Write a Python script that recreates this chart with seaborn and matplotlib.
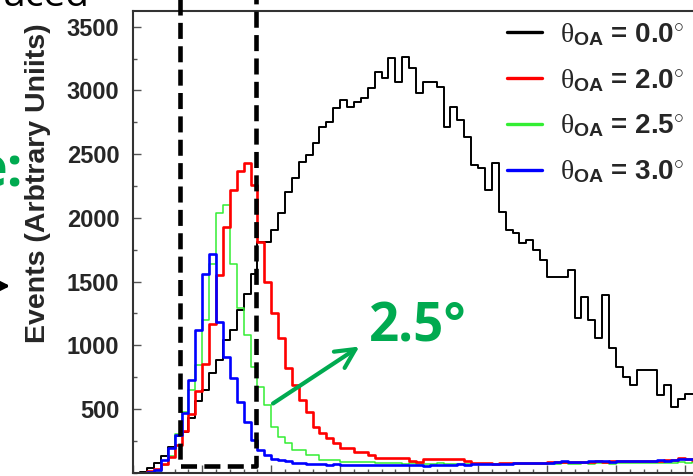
import numpy as np
import pandas as pd
import matplotlib
matplotlib.use('Agg')
import matplotlib.pyplot as plt
import seaborn as sns
from matplotlib.lines import Line2D
from matplotlib.ticker import MultipleLocator

# ---------------- data (bin contents, 0.05-wide bins starting at 0) ----------------
bin_width = 0.05
black_0p0 = [0, 5, 40, 80, 130, 200, 290, 320, 430, 560,
             650, 780, 885, 1041, 1120, 1277, 1400, 1560, 1813, 1813,
             1904, 2036, 2206, 2311, 2441, 2494, 2586, 2716, 2755, 2860,
             2926, 2873, 2912, 2939, 3017, 3148, 3096, 3253, 3070, 3266,
             3174, 2978, 3070, 3070, 3030, 2716, 2873, 2769, 2638, 2415,
             2389, 2219, 2429, 2049, 1905, 1879, 1801, 1827, 1748, 1670,
             1539, 1539, 1539, 1591, 1212, 1382, 1199, 1055, 1395, 977,
             832, 754, 688, 806, 806, 806, 610, 688, 518, 575,
             615, 615, 600, 600]
red_2p0 = [0, 0, 10, 30, 70, 120, 220, 330, 460, 640,
           850, 1170, 1550, 1930, 2220, 2370, 2430, 2260, 1813, 1500,
           1251, 1060, 820, 688, 571, 479, 361, 309, 270, 231,
           192, 192, 165, 165, 139, 113, 113, 113, 113, 113,
           90, 87, 105, 108, 110, 108, 105, 105, 90, 76,
           74, 74, 72, 74, 74, 76, 74, 74, 78, 80,
           82, 87, 87, 85, 87, 84, 87, 88, 87, 90,
           92, 90, 88, 92, 90, 94, 92, 96, 100, 112,
           105, 100, 102, 100]
green_2p5 = [0, 0, 5, 15, 60, 130, 300, 480, 650, 845,
             1200, 1640, 2040, 2100, 1640, 1290, 1080, 832, 675, 531,
             361, 280, 231, 178, 178, 139, 139, 100, 100, 100,
             87, 87, 87, 87, 85, 80, 76, 74, 74, 72,
             74, 72, 70, 72, 74, 72, 70, 70, 68, 70,
             66, 70, 68, 72, 66, 70, 68, 66, 70, 68,
             72, 70, 74, 72, 70, 74, 72, 76, 74, 72,
             74, 76, 78, 74, 80, 76, 78, 80, 78, 82,
             80, 84, 82, 80]
blue_3p0 = [0, 0, 5, 20, 100, 190, 296, 466, 728, 1120,
            1560, 1720, 1185, 911, 741, 557, 400, 257, 178, 139,
            110, 100, 90, 80, 74, 70, 68, 66, 64, 66,
            62, 64, 60, 62, 64, 60, 58, 60, 62, 58,
            60, 58, 56, 60, 62, 64, 62, 66, 64, 68,
            66, 70, 68, 72, 70, 74, 76, 74, 78, 76,
            80, 84, 88, 85, 82, 86, 90, 88, 92, 86,
            88, 92, 90, 94, 88, 92, 96, 94, 98, 105,
            110, 104, 100, 100]
angle_labels = ['0.0', '2.0', '2.5', '3.0']
y_ticks = [500, 1000, 1500, 2000, 2500, 3000, 3500]
box_x = [0.34, 0.89]
box_y_bottom = 53

# ---------------- style ----------------
sns.set_style('ticks')
plt.rcParams['font.family'] = ['Liberation Sans', 'DejaVu Sans']
plt.rcParams['mathtext.fontset'] = 'custom'
plt.rcParams['mathtext.rm'] = 'Liberation Sans:bold'
plt.rcParams['mathtext.bf'] = 'Liberation Sans:bold'
plt.rcParams['mathtext.it'] = 'Liberation Serif'

W, H = 693, 476
fig = plt.figure(figsize=(W / 100, H / 100), dpi=100)
fig.patch.set_facecolor('white')

px_per_unit = 137.9
ax_left, ax_top, ax_bottom = 133.3, 10.7, 472.7
xmax = 4.25
ymax = 3626
ax = fig.add_axes([ax_left / W, 1 - ax_bottom / H,
                   xmax * px_per_unit / W, (ax_bottom - ax_top) / H])

n = len(black_0p0)
centers = (np.arange(n) + 0.5) * bin_width
series = [black_0p0, red_2p0, green_2p5, blue_3p0]
df = pd.DataFrame({
    'E': np.tile(centers, 4),
    'w': np.concatenate(series).astype(float),
    'angle': np.repeat(angle_labels, n),
})

colors = {'0.0': '#000000', '2.0': '#ff0000', '2.5': '#33ee33', '3.0': '#0000ff'}
lws = {'0.0': 1.4, '2.0': 1.9, '2.5': 1.1, '3.0': 1.9}
for lab in ['0.0', '2.5', '2.0', '3.0']:
    sns.histplot(data=df[df['angle'] == lab], x='E', weights='w',
                 binwidth=bin_width, binrange=(0, n * bin_width),
                 element='step', fill=False, color=colors[lab],
                 linewidth=lws[lab], ax=ax)

ax.set_xlim(0, xmax)
ax.set_ylim(0, ymax)
ax.set_xlabel('')
ax.set_ylabel('Events (Arbtrary Uniits)', fontsize=20.5, fontweight='bold')
ax.yaxis.set_label_coords(51 / W, 1 - 183 / H, transform=fig.transFigure)

ax.set_yticks(y_ticks)
ax.yaxis.set_minor_locator(MultipleLocator(250))
ax.xaxis.set_major_locator(MultipleLocator(0.5))
ax.xaxis.set_minor_locator(MultipleLocator(0.1))
ax.tick_params(axis='both', which='both', direction='in', color='#555555', width=1)
ax.tick_params(axis='y', which='major', length=6, pad=10.0, labelsize=17)
ax.tick_params(axis='y', which='minor', length=3)
ax.tick_params(axis='x', which='major', length=5.5, labelbottom=False)
ax.tick_params(axis='x', which='minor', length=3)
for lbl in ax.get_yticklabels():
    lbl.set_fontweight('bold')
for s in ax.spines.values():
    s.set_visible(True)
    s.set_linewidth(1.5)
    s.set_color('#333333')

# dashed selection box
ax.plot([box_x[0], box_x[0], box_x[1], box_x[1]],
        [4000, box_y_bottom, box_y_bottom, 4000],
        color='black', lw=3.3, linestyle=(0, (3.5, 1.6)), clip_on=False, zorder=6)

# legend
handles = [Line2D([], [], color=colors[l], lw=2.4) for l in angle_labels]
texts = [r'$\theta_{\rm OA}$ = ' + l + r'$^{\circ}$' for l in angle_labels]
leg = ax.legend(handles, texts, loc='upper left', bbox_to_anchor=(507 / W, 1 - 21 / H),
                bbox_transform=fig.transFigure, frameon=False, borderpad=0,
                borderaxespad=0, handlelength=1.25, handletextpad=0.65,
                labelspacing=0.68, prop={'family': 'Liberation Sans', 'weight': 'bold', 'size': 20})

# slide annotations
g = '#00aa50'
ax.annotate('', xy=(361.7, H - 345), xytext=(270.7, H - 405), xycoords='figure pixels',
            textcoords='figure pixels',
            arrowprops=dict(arrowstyle='->', lw=3, color=g, mutation_scale=35))
fig.text(369 / W, 1 - 342 / H, '2.5°', color=g, fontsize=38, fontweight='bold',
         family='Open Sans', ha='left', va='baseline')
fig.text(90 / W, 1 - 6 / H, 'uced', color='black', fontsize=28,
         family='Open Sans', ha='right', va='baseline')
fig.text(23 / W, 1 - 187 / H, 'e:', color=g, fontsize=40, fontweight='bold',
         family='Open Sans', ha='right', va='baseline')
ax.annotate('', xy=(13, H - 286), xytext=(-30, H - 286), xycoords='figure pixels',
            textcoords='figure pixels',
            arrowprops=dict(arrowstyle='->', lw=2.5, color='black', mutation_scale=22))

fig.savefig('out.png', dpi=100)
